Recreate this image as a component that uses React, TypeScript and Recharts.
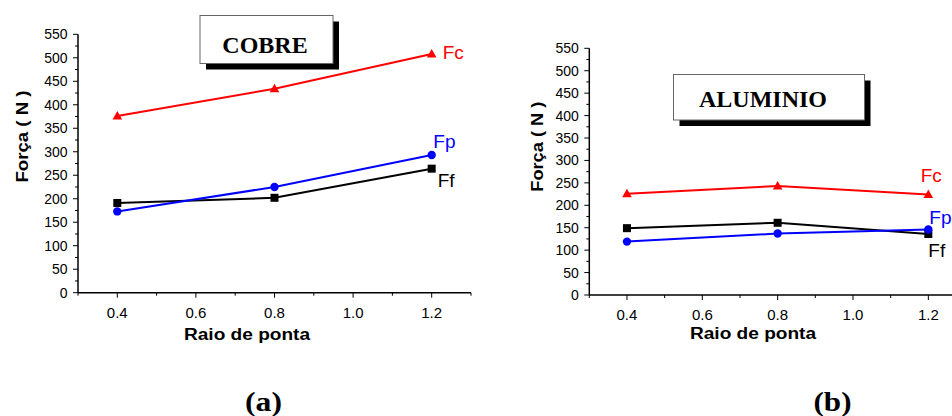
import { LineChart, Line, XAxis, YAxis, LabelList } from "recharts";

const RADII = [0.4, 0.8, 1.2];

const COBRE_FC = [376, 434, 508];
const COBRE_FP = [173, 225, 293];
const COBRE_FF = [191, 202, 264];

const ALUMINIO_FC = [226, 243, 224];
const ALUMINIO_FP = [119, 137, 146];
const ALUMINIO_FF = [149, 161, 136];

const X_TICKS = [0.3, 0.4, 0.5, 0.6, 0.7, 0.8, 0.9, 1.0, 1.1, 1.2, 1.3];
const Y_TICKS = [
  0, 25, 50, 75, 100, 125, 150, 175, 200, 225, 250, 275, 300, 325, 350, 375,
  400, 425, 450, 475, 500, 525, 550,
];

const SANS = "'Liberation Sans', Arial, sans-serif";
const SERIF = "'Liberation Serif', 'Times New Roman', serif";

type Shape = "triangle" | "square" | "circle";

// drawn in this order: Fp on top
const SERIES: { key: string; color: string; shape: Shape }[] = [
  { key: "Fc", color: "#ff0000", shape: "triangle" },
  { key: "Ff", color: "#000000", shape: "square" },
  { key: "Fp", color: "#0000ff", shape: "circle" },
];

const buildData = (fc: number[], fp: number[], ff: number[]) =>
  RADII.map((r, i) => ({ r, Fc: fc[i], Fp: fp[i], Ff: ff[i] }));

const cobreData = buildData(COBRE_FC, COBRE_FP, COBRE_FF);
const aluminioData = buildData(ALUMINIO_FC, ALUMINIO_FP, ALUMINIO_FF);

const Marker = ({ cx, cy, shape, color }: any) => {
  if (cx == null || cy == null) return null;
  if (shape === "triangle") {
    return (
      <polygon
        points={`${cx},${cy - 5} ${cx - 4.8},${cy + 3.5} ${cx + 4.8},${cy + 3.5}`}
        fill={color}
      />
    );
  }
  if (shape === "square") {
    return <rect x={cx - 4} y={cy - 4} width={8} height={8} fill={color} />;
  }
  return <circle cx={cx} cy={cy} r={4.2} fill={color} />;
};

const YTick = (props: any) => {
  const { x, y, payload } = props;
  const major = payload.value % 50 === 0;
  return (
    <g>
      <line x1={x} x2={x - (major ? 5 : 3)} y1={y} y2={y} stroke="#000" strokeWidth={1} />
      {major && (
        <text
          x={x - 10.5}
          y={y}
          dy="0.36em"
          textAnchor="end"
          fontSize={14}
          fontFamily={SANS}
          fill="#000"
        >
          {payload.value}
        </text>
      )}
    </g>
  );
};

const XTick = (props: any) => {
  const { x, y, payload } = props;
  const major = Math.round(payload.value * 10) % 2 === 0;
  return (
    <g>
      <line x1={x} x2={x} y1={y} y2={y + (major ? 5 : 3)} stroke="#000" strokeWidth={1} />
      {major && (
        <text
          x={x}
          y={y + 25}
          textAnchor="middle"
          fontSize={15}
          fontFamily={SANS}
          fill="#000"
        >
          {Number(payload.value).toFixed(1)}
        </text>
      )}
    </g>
  );
};

interface PanelProps {
  data: any[];
  width: number;
  height: number;
  top: number;
  right: number;
  yWidth: number;
  xHeight: number;
  offsets: Record<string, [number, number]>;
}

const Panel = ({ data, width, height, top, right, yWidth, xHeight, offsets }: PanelProps) => (
  <LineChart
    width={width}
    height={height}
    data={data}
    margin={{ top, right, left: 0, bottom: 0 }}
  >
    <XAxis
      type="number"
      dataKey="r"
      domain={[0.3, 1.3]}
      ticks={X_TICKS}
      interval={0}
      height={xHeight}
      tickSize={0}
      tickMargin={0}
      tickLine={false}
      axisLine={{ stroke: "#000", strokeWidth: 1.5 }}
      tick={<XTick />}
    />
    <YAxis
      type="number"
      domain={[0, 550]}
      ticks={Y_TICKS}
      interval={0}
      width={yWidth}
      tickSize={0}
      tickMargin={0}
      tickLine={false}
      axisLine={{ stroke: "#000", strokeWidth: 1.5 }}
      tick={<YTick />}
    />
    {SERIES.map((s) => (
      <Line
        key={s.key}
        dataKey={s.key}
        stroke={s.color}
        strokeWidth={2}
        isAnimationActive={false}
        activeDot={false}
        dot={(p: any) => (
          <Marker key={`${s.key}-${p.index}`} cx={p.cx} cy={p.cy} shape={s.shape} color={s.color} />
        )}
      >
        <LabelList
          dataKey={s.key}
          content={(p: any) =>
            p.index === data.length - 1 ? (
              <text
                x={p.x + offsets[s.key][0]}
                y={p.y + offsets[s.key][1]}
                fontSize={19}
                fontFamily={SANS}
                fill={s.color}
              >
                {s.key}
              </text>
            ) : null
          }
        />
      </Line>
    ))}
  </LineChart>
);

const TitleBox = ({ x, y, w, h, label, tx, ty }: any) => (
  <g>
    <rect x={x + 6} y={y + 6} width={w} height={h} fill="#000" />
    <rect x={x} y={y} width={w} height={h} fill="#fff" stroke="#666" strokeWidth={1} />
    <text
      x={tx}
      y={ty}
      textAnchor="middle"
      fontSize={24}
      fontWeight="bold"
      fontFamily={SERIF}
      fill="#000"
    >
      {label}
    </text>
  </g>
);

const App = () => {
  return (
    <div
      style={{
        position: "absolute",
        left: 0,
        top: 0,
        width: 952,
        height: 416,
        overflow: "hidden",
        background: "#fff",
      }}
    >
      <div style={{ position: "absolute", left: 0, top: 0 }}>
        <Panel
          data={cobreData}
          width={480}
          height={320}
          top={34.3}
          right={9}
          yWidth={78}
          xHeight={27.3}
          offsets={{ Fc: [11, 5], Fp: [1.6, -6.7], Ff: [6, 18] }}
        />
      </div>
      <div style={{ position: "absolute", left: 480, top: 0 }}>
        <Panel
          data={aluminioData}
          width={490}
          height={330}
          top={48.3}
          right={4}
          yWidth={109.3}
          xHeight={35}
          offsets={{ Fc: [-7.6, -12.8], Fp: [1, -5.5], Ff: [0, 22.7] }}
        />
      </div>
      <svg
        width={952}
        height={416}
        style={{ position: "absolute", left: 0, top: 0, pointerEvents: "none" }}
      >
        <TitleBox x={200} y={15.5} w={133} h={48} label="COBRE" tx={265} ty={52.5} />
        <TitleBox x={673.5} y={74.5} w={191} h={45.5} label="ALUMINIO" tx={763} ty={106.5} />

        <text
          transform="rotate(-90, 28, 136.5)"
          x={28}
          y={136.5}
          textAnchor="middle"
          fontSize={16}
          fontWeight="bold"
          fontFamily={SANS}
          textLength={92}
          lengthAdjust="spacingAndGlyphs"
          fill="#000"
        >
          Força ( N )
        </text>
        <text
          transform="rotate(-90, 543, 146.7)"
          x={543}
          y={146.7}
          textAnchor="middle"
          fontSize={16}
          fontWeight="bold"
          fontFamily={SANS}
          textLength={90}
          lengthAdjust="spacingAndGlyphs"
          fill="#000"
        >
          Força ( N )
        </text>

        <text
          x={184}
          y={340}
          fontSize={16}
          fontWeight="bold"
          fontFamily={SANS}
          textLength={126}
          lengthAdjust="spacingAndGlyphs"
          fill="#000"
        >
          Raio de ponta
        </text>
        <text
          x={690}
          y={339}
          fontSize={16}
          fontWeight="bold"
          fontFamily={SANS}
          textLength={126}
          lengthAdjust="spacingAndGlyphs"
          fill="#000"
        >
          Raio de ponta
        </text>

        <text
          x={245}
          y={411}
          fontSize={27}
          fontWeight="bold"
          fontFamily={SERIF}
          textLength={37}
          lengthAdjust="spacingAndGlyphs"
          fill="#000"
        >
          (a)
        </text>
        <text
          x={813.5}
          y={411}
          fontSize={27}
          fontWeight="bold"
          fontFamily={SERIF}
          textLength={38}
          lengthAdjust="spacingAndGlyphs"
          fill="#000"
        >
          (b)
        </text>
      </svg>
    </div>
  );
};

export default App;
